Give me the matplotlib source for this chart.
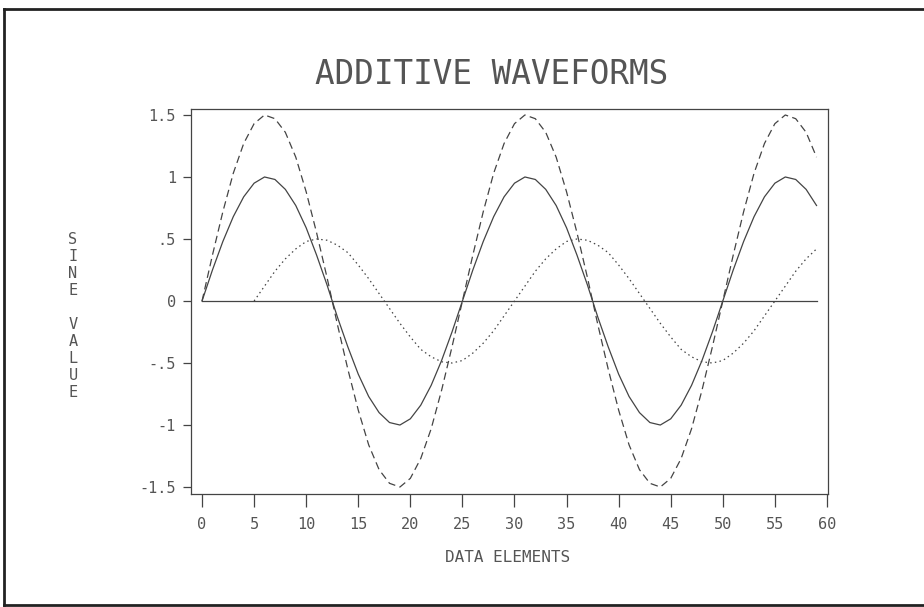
"""
Additive waveforms chart (plotter style).
"""

import matplotlib
matplotlib.use("Agg")
import matplotlib.pyplot as plt
from matplotlib.lines import Line2D


# data elements 0..59
data_elements = list(range(60))

# sine, amplitude 1
sine_values = [
    0, .25, .48, .68, .84, .95, 1.0, .98, .90, .77,
    .59, .37, .13, -.13, -.37, -.59, -.77, -.90, -.98, -1.0,
    -.95, -.84, -.68, -.48, -.25, 0, .25, .48, .68, .84,
    .95, 1.0, .98, .90, .77, .59, .37, .13, -.13, -.37,
    -.59, -.77, -.90, -.98, -1.0, -.95, -.84, -.68, -.48, -.25,
    0, .25, .48, .68, .84, .95, 1.0, .98, .90, .77
]

# dashed wave, amplitude 1.5
sum_values = [
    0, .37, .72, 1.03, 1.27, 1.43, 1.50, 1.47, 1.36, 1.16,
    .88, .55, .19, -.19, -.55, -.88, -1.16, -1.36, -1.47, -1.50,
    -1.43, -1.27, -1.03, -.72, -.37, 0, .37, .72, 1.03, 1.27,
    1.43, 1.50, 1.47, 1.36, 1.16, .88, .55, .19, -.19, -.55,
    -.88, -1.16, -1.36, -1.47, -1.50, -1.43, -1.27, -1.03, -.72, -.37,
    0, .37, .72, 1.03, 1.27, 1.43, 1.50, 1.47, 1.36, 1.16
]

# dotted wave, amplitude 0.5, starts at element 5
half_elements = list(range(5, 60))
half_values = [
    0, .12, .24, .34, .42, .48, .50, .49, .45, .39,
    .29, .18, .06, -.06, -.18, -.29, -.39, -.45, -.49, -.50,
    -.48, -.42, -.34, -.24, -.12, 0, .12, .24, .34, .42,
    .48, .50, .49, .45, .39, .29, .18, .06, -.06, -.18,
    -.29, -.39, -.45, -.49, -.50, -.48, -.42, -.34, -.24, -.12,
    0, .12, .24, .34, .42
]

zero_values = [0] * 60

x_ticks = [0, 5, 10, 15, 20, 25, 30, 35, 40, 45, 50, 55, 60]
y_ticks = [1.5, 1, .5, 0, -.5, -1, -1.5]
y_tick_labels = ["1.5", "1", ".5", "0", "-.5", "-1", "-1.5"]

title = "ADDITIVE WAVEFORMS"
x_label = "DATA ELEMENTS"
y_label = "SINE VALUE"


ink = "#444444"
light_ink = "#555555"
font = "DejaVu Sans Mono"

plt.rcParams["font.family"] = font

fig = plt.figure(figsize=(9.24, 6.07), dpi=100)
fig.patch.set_facecolor("white")

ax = fig.add_axes([0.2067, 0.1862, 0.6894, 0.6342])

ax.plot(data_elements, sine_values, color=ink, lw=0.9)
ax.plot(data_elements, sum_values, color=ink, lw=0.9,
        linestyle=(0, (6, 3.5)))
ax.plot(half_elements, half_values, color=ink, lw=0.9,
        linestyle=(0, (1.2, 2.6)))
ax.plot(data_elements, zero_values, color=ink, lw=0.9)

ax.set_xlim(-1.06, 60.1)
ax.set_ylim(-1.556, 1.548)

ax.set_xticks(x_ticks)
ax.set_xticklabels([str(t) for t in x_ticks])
ax.set_yticks(y_ticks)
ax.set_yticklabels(y_tick_labels)

for spine in ax.spines.values():
    spine.set_color(ink)
    spine.set_linewidth(0.9)

ax.tick_params(axis="x", direction="out", length=9.5, width=0.9,
               color=ink, labelcolor=light_ink, labelsize=11, pad=7)
ax.tick_params(axis="y", direction="out", length=5.8, width=0.9,
               color=ink, labelcolor=light_ink, labelsize=11, pad=5)

fig.text(492 / 924, 1 - 75 / 607, title, ha="center", va="center",
         fontsize=23.5, color=light_ink, family=font)

fig.text(507.5 / 924, 1 - 557 / 607, x_label, ha="center", va="center",
         fontsize=11.5, color=light_ink, family=font)

stacked = "\n".join(y_label)
fig.text(73 / 924, 1 - 316 / 607, stacked, ha="center", va="center",
         fontsize=11, color=light_ink, family=font, linespacing=1.16)

# page border (left, top, bottom)
border = dict(color="#222222", lw=2.0, transform=fig.transFigure)
fig.add_artist(Line2D([4 / 924, 4 / 924], [1 - 9 / 607, 1 - 605 / 607], **border))
fig.add_artist(Line2D([4 / 924, 1.0], [1 - 9 / 607, 1 - 9 / 607], **border))
fig.add_artist(Line2D([4 / 924, 1.0], [1 - 605 / 607, 1 - 605 / 607], **border))

fig.savefig("out.png", dpi=100, facecolor="white")
